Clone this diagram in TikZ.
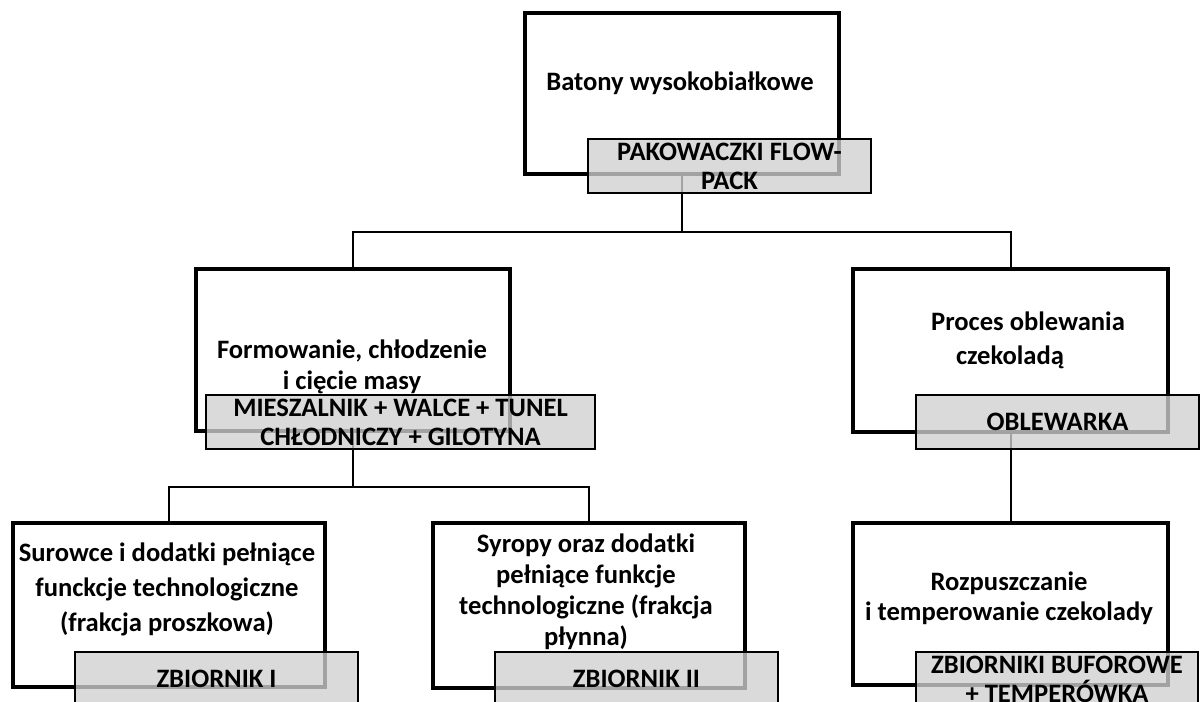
\documentclass[tikz,border=0pt]{standalone}
\usepackage{fontspec}
\setmainfont{Carlito}
\usepackage{tikz}
\usepackage{xcolor}
\usetikzlibrary{positioning}
\definecolor{devgray}{RGB}{208,208,208}

\begin{document}
\begin{tikzpicture}[x=0.5pt,y=-0.5pt]
\tikzstyle{every node}+=[inner sep=0pt, align=center, font=\bfseries\fontsize{13.3}{14.5}\selectfont]
\tikzstyle{procbox}=[rectangle, draw=black, line width=1.6pt, fill=white]
\tikzstyle{devbox}=[rectangle, draw=black, line width=1pt, fill=devgray, fill opacity=0.78, text opacity=1]
\tikzstyle{link}=[draw=black, line width=1pt]
\useasboundingbox (0,0) rectangle (1203,701);
\clip (0,0) rectangle (1203,701);
% process boxes
\node [procbox, minimum width=157pt, minimum height=80.5pt] (baton) at (682,93.5) {};
\node [procbox, minimum width=157pt, minimum height=81pt] (formow) at (353,350) {};
\node [procbox, minimum width=157.5pt, minimum height=81.5pt] (oblew) at (1010.5,350.5) {};
\node [procbox, minimum width=156pt, minimum height=82pt] (surowce) at (169,605) {};
\node [procbox, minimum width=156pt, minimum height=82.5pt] (syropy) at (589,605.5) {};
\node [procbox, minimum width=157.5pt, minimum height=81pt] (rozpus) at (1010.5,604) {};
\node (batonT) at (680,83) {Batony wysokobiałkowe};
\node [font=\bfseries\fontsize{13.3}{15.5}\selectfont] (formowT) at (352,367) {Formowanie, chłodzenie\\i cięcie masy};
\node [font=\bfseries\fontsize{13.3}{17}\selectfont] (oblewT) at (1010,340) {\hspace*{18pt}Proces oblewania\\czekoladą};
\node [font=\bfseries\fontsize{13.3}{17.5}\selectfont] (surowceT) at (167,589) {Surowce i dodatki pełniące\\funckcje technologiczne\\(frakcja proszkowa)};
\node [font=\bfseries\fontsize{13.3}{15.5}\selectfont] (syropyT) at (586,592) {Syropy oraz dodatki\\pełniące funkcje\\technologiczne (frakcja\\płynna)};
\node [font=\bfseries\fontsize{13.3}{15}\selectfont] (rozpusT) at (1009,598) {Rozpuszczanie\\i temperowanie czekolady};
% connectors
\coordinate (split1) at (682,232);
\coordinate (split2) at (353,487);
\draw [link] (baton.south) -- (split1) -| (formow.north);
\draw [link] (split1) -| (oblew.north);
\draw [link] (formow.south) -- (split2) -| (surowce.north);
\draw [link] (split2) -| (syropy.north);
\draw [link] (oblew.south) -- (rozpus.north);
% machines
\node [devbox, minimum width=141.5pt, minimum height=27pt] (pakow) at (729.5,166) {PAKOWACZKI FLOW-\\PACK};
\node [devbox, minimum width=194.5pt, minimum height=27pt] (mieszal) at (400.5,422) {MIESZALNIK + WALCE + TUNEL\\CHŁODNICZY + GILOTYNA};
\node [devbox, minimum width=141.5pt, minimum height=27pt] (oblewarka) at (1057.5,422) {OBLEWARKA};
\node [devbox, minimum width=141.5pt, minimum height=27pt] (zbior1) at (216.5,679) {ZBIORNIK I};
\node [devbox, minimum width=141.5pt, minimum height=27pt] (zbior2) at (636.5,679) {ZBIORNIK II};
\node [devbox, minimum width=141pt, minimum height=27pt] (zbiorB) at (1057,679) {ZBIORNIKI BUFOROWE\\+ TEMPERÓWKA};
\end{tikzpicture}
\end{document}
